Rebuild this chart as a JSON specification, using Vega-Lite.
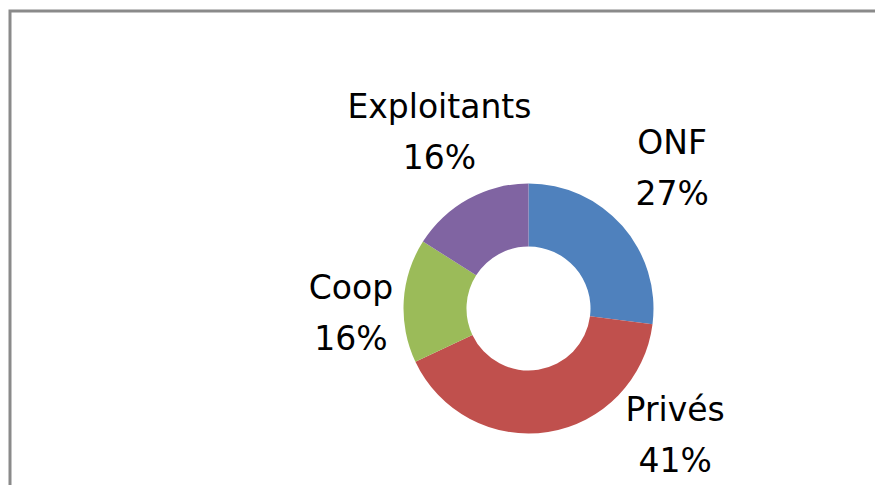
{
  "$schema": "https://vega.github.io/schema/vega-lite/v6.json",
  "width": 1037,
  "height": 595,
  "autosize": {"type": "none"},
  "padding": {"left": 10, "top": 11, "right": 0, "bottom": 0},
  "background": "white",
  "config": {"view": {"stroke": null}},
  "data": {
    "values": [
      {"categorie": "ONF", "part": 0.27, "ordre": 1},
      {"categorie": "Privés", "part": 0.41, "ordre": 2},
      {"categorie": "Coop", "part": 0.16, "ordre": 3},
      {"categorie": "Exploitants", "part": 0.16, "ordre": 4}
    ]
  },
  "layer": [
    {
      "data": {"values": [{"cadre": 1}]},
      "mark": {"type": "rect", "fill": null, "stroke": "#8a8a8a", "strokeWidth": 3},
      "encoding": {}
    },
    {
      "mark": {"type": "arc", "outerRadius": 125, "innerRadius": 62},
      "encoding": {
        "theta": {"field": "part", "type": "quantitative", "stack": true},
        "order": {"field": "ordre", "type": "quantitative"},
        "color": {
          "field": "categorie",
          "type": "nominal",
          "scale": {
            "domain": ["ONF", "Privés", "Coop", "Exploitants"],
            "range": ["#4F81BD", "#C0504D", "#9BBB59", "#8064A2"]
          },
          "legend": null
        }
      }
    },
    {
      "mark": {
        "type": "text", "radius": 218, "thetaOffset": -0.129,
        "fontSize": 33, "font": "DejaVu Sans", "lineHeight": 51, "color": "black",
        "text": {"expr": "[datum.categorie, format(datum.part, '.0%')]"}
      },
      "encoding": {
        "theta": {"field": "part", "type": "quantitative", "stack": true},
        "order": {"field": "ordre", "type": "quantitative"},
        "opacity": {"condition": {"test": "datum.categorie === 'ONF'", "value": 1}, "value": 0}
      }
    },
    {
      "mark": {
        "type": "text", "radius": 179, "thetaOffset": -0.803,
        "fontSize": 33, "font": "DejaVu Sans", "lineHeight": 51, "color": "black",
        "text": {"expr": "[datum.categorie, format(datum.part, '.0%')]"}
      },
      "encoding": {
        "theta": {"field": "part", "type": "quantitative", "stack": true},
        "order": {"field": "ordre", "type": "quantitative"},
        "opacity": {"condition": {"test": "datum.categorie === 'Privés'", "value": 1}, "value": 0}
      }
    },
    {
      "mark": {
        "type": "text", "radius": 178.5, "thetaOffset": 0.044,
        "fontSize": 33, "font": "DejaVu Sans", "lineHeight": 51, "color": "black",
        "text": {"expr": "[datum.categorie, format(datum.part, '.0%')]"}
      },
      "encoding": {
        "theta": {"field": "part", "type": "quantitative", "stack": true},
        "order": {"field": "ordre", "type": "quantitative"},
        "opacity": {"condition": {"test": "datum.categorie === 'Coop'", "value": 1}, "value": 0}
      }
    },
    {
      "mark": {
        "type": "text", "radius": 219, "thetaOffset": 0.084,
        "fontSize": 33, "font": "DejaVu Sans", "lineHeight": 51, "color": "black",
        "text": {"expr": "[datum.categorie, format(datum.part, '.0%')]"}
      },
      "encoding": {
        "theta": {"field": "part", "type": "quantitative", "stack": true},
        "order": {"field": "ordre", "type": "quantitative"},
        "opacity": {"condition": {"test": "datum.categorie === 'Exploitants'", "value": 1}, "value": 0}
      }
    }
  ]
}
